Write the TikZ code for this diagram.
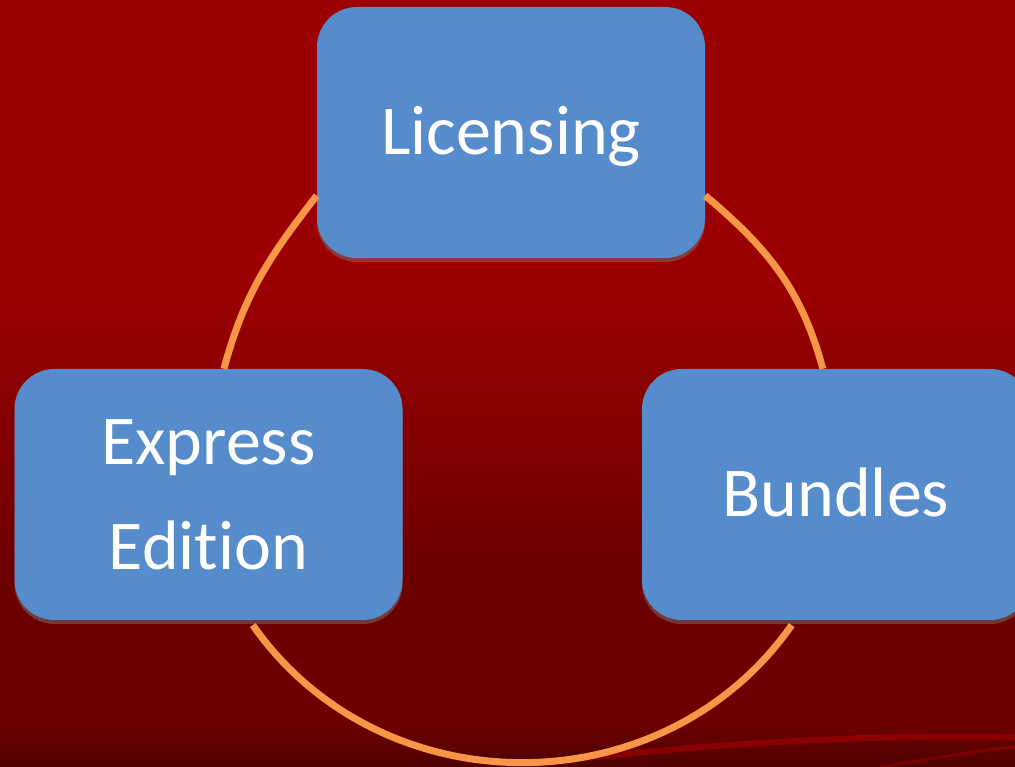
\documentclass[tikz,border=0pt]{standalone}
\usepackage{fontspec}
\setmainfont{Carlito}[Ligatures=NoCommon,RawFeature=-liga]
\usepackage{tikz}
\usetikzlibrary{shadows}

\definecolor{slidetop}{RGB}{155,0,0}
\definecolor{slidebot}{RGB}{106,0,0}
\definecolor{boxblue}{RGB}{87,140,204}
\definecolor{ringorange}{RGB}{247,150,70}

\begin{document}
\begin{tikzpicture}
		[x=1pt,y=1pt,
		b/.style= {rectangle,rounded corners=40pt,minimum width=388pt,minimum height=251pt,inner sep=0pt,
			fill=boxblue,text=white,font=\fontsize{70}{105}\selectfont,
			drop shadow={shadow xshift=0pt,shadow yshift=-4pt,opacity=.45}},
		one/.style= {text height=45pt,text depth=0pt},
		r/.style= {line width=7pt,draw=ringorange}]

		\useasboundingbox (0,0) rectangle (1015,767);
		% slide background
		\fill[slidetop] (0,485) rectangle (1015,767);
		\fill[top color=slidetop,bottom color=slidebot] (0,185) rectangle (1015,486);
		\fill[slidebot] (0,0) rectangle (1015,186);
		\fill[top color=slidebot,bottom color=slidebot!75!black] (0,0) rectangle (1015,40);
		\draw[line width=6pt,red!75!black,opacity=.45] (560,6) .. controls (750,28) and (900,32) .. (1015,30);
		\draw[line width=3pt,red!70!black,opacity=.4] (880,0) .. controls (940,10) and (990,18) .. (1015,20);

		\node[b,one] (lic) at (511,634.5) {Licensing};

		\node[b,align=center] (exp) at (208.5,272.5) {Express\\Edition};

		\node[b,one] (bun) at (836,272.5) {Bundles};

		\path (lic.198.4) edge [r, out=232, in=75] (exp.83);
		\path (lic.-18.4) edge [r, out=320, in=105] (bun.96.4);
		\path (exp.-72.5) edge [r, out=-55, in=-125, looseness=1.08, shorten <=6pt, shorten >=6pt] (bun.252.7);

	\end{tikzpicture}
\end{document}
